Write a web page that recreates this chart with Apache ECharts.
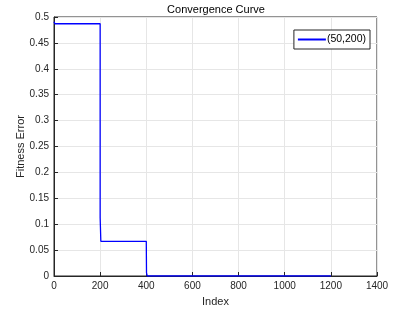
<!DOCTYPE html>
<html><head><meta charset="utf-8">
<script src="https://cdn.jsdelivr.net/npm/echarts@6/dist/echarts.min.js"></script>
<style>html,body{margin:0;padding:0;background:#fff}#c{width:416px;height:312px}</style>
</head><body><div id="c"></div>
<script>
const xIndex   = [0,     4,     200,   200,   202,   203,   400,   401,   402,   404, 1200];
const fitness  = [0.491, 0.487, 0.487, 0.113, 0.110, 0.067, 0.067, 0.006, 0.004, 0,   0];
const xTicks = [0,200,400,600,800,1000,1200,1400];
const yTicks = [0,0.05,0.1,0.15,0.2,0.25,0.3,0.35,0.4,0.45,0.5];
const seriesName = '(50,200)';

const chart = echarts.init(document.getElementById('c'), null, {renderer:'canvas'});
const font = 'Helvetica, Arial, "Liberation Sans", sans-serif';
const axisCommon = {
  axisLine:{show:true,onZero:false,lineStyle:{color:'#262626',width:1}},
  axisTick:{show:true,inside:true,length:4,lineStyle:{color:'#262626'}},
  splitLine:{show:true,lineStyle:{color:'#e6e6e6',width:1}},
  axisLabel:{color:'#262626',fontSize:10,fontFamily:font},
  nameTextStyle:{color:'#262626',fontSize:11,fontFamily:font},
  nameMoveOverlap:false
};
chart.setOption({
  animation:false,
  backgroundColor:'#fff',
  title:{text:'Convergence Curve',left:216,top:4,padding:0,textAlign:'center',
    textStyle:{fontSize:11,fontWeight:'normal',color:'#000',fontFamily:font}},
  grid:{left:54,right:39,top:17,bottom:35,show:true,borderColor:'#262626',borderWidth:1,backgroundColor:'#fff'},
  legend:{show:true,right:46,top:30,orient:'vertical',
    backgroundColor:'#fff',borderColor:'#262626',borderWidth:1,padding:[4,4,4,4],
    itemWidth:28,itemHeight:2,itemGap:2,
    icon:'rect',
    textStyle:{fontSize:10.5,color:'#000',fontFamily:font,padding:[0,0,0,-4]},
    data:[{name:seriesName,icon:'rect'}]},
  xAxis:Object.assign({type:'value',min:0,max:1400,interval:200,
    name:'Index',nameLocation:'middle',nameGap:20},axisCommon,
    {axisLabel:Object.assign({},axisCommon.axisLabel,{margin:5,formatter:v=>String(v)})}),
  yAxis:Object.assign({type:'value',min:0,max:0.5,interval:0.05,
    name:'Fitness Error',nameLocation:'middle',nameGap:28},axisCommon,
    {axisLabel:Object.assign({},axisCommon.axisLabel,{margin:5,
      formatter:v=>String(+v.toFixed(2))})}),
  series:[{name:seriesName,type:'line',showSymbol:false,symbol:'none',
    lineStyle:{color:'#0000ff',width:1.3},itemStyle:{color:'#0000ff'},
    data:xIndex.map((x,i)=>[x,fitness[i]])}]
});
</script></body></html>
